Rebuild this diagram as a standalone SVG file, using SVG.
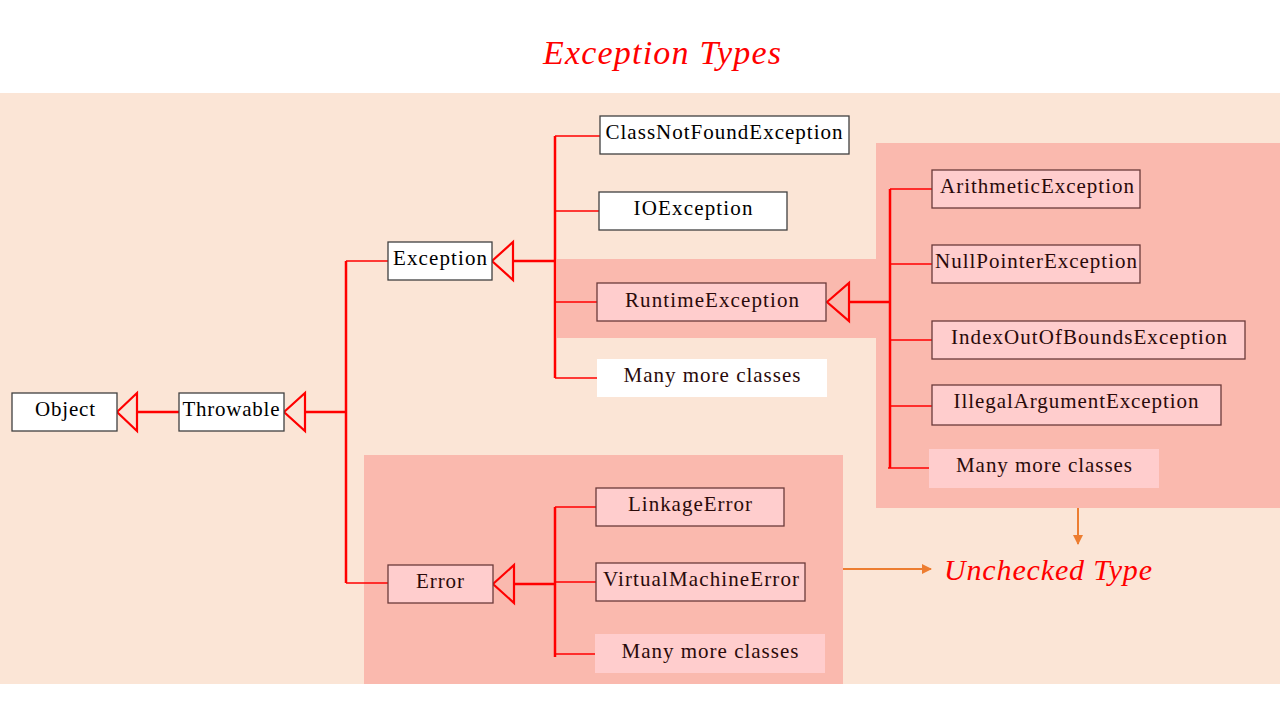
<svg xmlns="http://www.w3.org/2000/svg" width="1280" height="720" viewBox="0 0 1280 720">
<defs>
<style>
.t{font-family:"Liberation Serif","Times New Roman",serif;font-size:21px;fill:#000;text-anchor:middle}
.tp{font-family:"Liberation Serif","Times New Roman",serif;font-size:21px;fill:#2a0a0a;text-anchor:middle}
.bw{fill:#fff;stroke:#404040;stroke-width:1.3}
.bp{fill:#FFCDCD;stroke:#6b3a3a;stroke-width:1.3}
.bpl{fill:#FFCDCD;stroke:none}
.bwl{fill:#fff;stroke:none}
.vl{stroke:#FF0000;stroke-width:2.5;fill:none}
.br{stroke:#FF0000;stroke-width:1.5;fill:none}
.tri{stroke:#FF0000;stroke-width:2.2;fill:none;stroke-linejoin:miter}
.or{stroke:#ED7D31;stroke-width:2;fill:none}
.it{font-family:"Liberation Serif","Times New Roman",serif;font-style:italic;fill:#FF0000}
</style>
<marker id="oa" viewBox="0 0 10 10" refX="9" refY="5" markerWidth="5" markerHeight="5" orient="auto" markerUnits="strokeWidth">
<path d="M0,0 L10,5 L0,10 z" fill="#ED7D31"/>
</marker>
</defs>
<rect x="0" y="0" width="1280" height="720" fill="#fff"/>
<rect x="0" y="93" width="1280" height="591" fill="#FBE5D6"/>
<text class="it" x="662" y="64" font-size="34" text-anchor="middle" textLength="238" lengthAdjust="spacing">Exception Types</text>

<g id="regions">
<rect x="557" y="259" width="320" height="79" fill="#FAB9AE"/>
<rect x="876" y="143" width="404" height="365" fill="#FAB9AE"/>
<rect x="364" y="455" width="479" height="229" fill="#FAB9AE"/>
</g>

<g id="connectors">
<polygon class="tri" points="117,412 137,393 137,431"/>
<line class="vl" x1="137" y1="412" x2="179" y2="412"/>
<polygon class="tri" points="284,412 305,393 305,431"/>
<line class="vl" x1="305" y1="412" x2="346" y2="412"/>
<line class="vl" x1="346" y1="261" x2="346" y2="583"/>
<line class="br" x1="346" y1="261" x2="388" y2="261"/>
<line class="br" x1="346" y1="583" x2="388" y2="583"/>

<polygon class="tri" points="492,261 513,242 513,280"/>
<line class="vl" x1="513" y1="261" x2="555" y2="261"/>
<line class="vl" x1="555" y1="136" x2="555" y2="378"/>
<line class="br" x1="555" y1="136" x2="600" y2="136"/>
<line class="br" x1="555" y1="211" x2="599" y2="211"/>
<line class="br" x1="555" y1="302" x2="597" y2="302"/>
<line class="br" x1="555" y1="378" x2="597" y2="378"/>

<polygon class="tri" points="827,302 849,283 849,321"/>
<line class="vl" x1="849" y1="302" x2="890" y2="302"/>
<line class="vl" x1="890" y1="189" x2="890" y2="468"/>
<line class="br" x1="890" y1="189" x2="932" y2="189"/>
<line class="br" x1="890" y1="264" x2="932" y2="264"/>
<line class="br" x1="890" y1="340" x2="932" y2="340"/>
<line class="br" x1="890" y1="406" x2="932" y2="406"/>
<line class="br" x1="888" y1="468" x2="929" y2="468"/>

<polygon class="tri" points="493,584 514,565 514,603"/>
<line class="vl" x1="514" y1="584" x2="555" y2="584"/>
<line class="vl" x1="555" y1="507" x2="555" y2="657"/>
<line class="br" x1="555" y1="507" x2="596" y2="507"/>
<line class="br" x1="555" y1="582" x2="596" y2="582"/>
<line class="br" x1="555" y1="654" x2="595" y2="654"/>

<line class="or" x1="843" y1="569" x2="931" y2="569" marker-end="url(#oa)"/>
<line class="or" x1="1078" y1="508" x2="1078" y2="544" marker-end="url(#oa)"/>
</g>

<g id="object"><rect class="bw" x="12" y="393" width="105" height="38"/><text class="t" x="65" y="416" textLength="60" lengthAdjust="spacing">Object</text></g>
<g id="throwable"><rect class="bw" x="179" y="393" width="105" height="38"/><text class="t" x="231" y="416" textLength="97" lengthAdjust="spacing">Throwable</text></g>
<g id="exception"><rect class="bw" x="388" y="242" width="104" height="38"/><text class="t" x="440" y="265" textLength="94" lengthAdjust="spacing">Exception</text></g>
<g id="classnotfound"><rect class="bw" x="600" y="116" width="249" height="38"/><text class="t" x="724" y="139" textLength="237" lengthAdjust="spacing">ClassNotFoundException</text></g>
<g id="ioexception"><rect class="bw" x="599" y="192" width="188" height="38"/><text class="t" x="693" y="215" textLength="119" lengthAdjust="spacing">IOException</text></g>
<g id="runtime"><rect class="bp" x="597" y="283" width="229" height="38"/><text class="tp" x="712" y="307" textLength="174" lengthAdjust="spacing">RuntimeException</text></g>
<g id="many1"><rect class="bwl" x="597" y="359" width="230" height="38"/><text class="tp" x="712" y="382" textLength="177" lengthAdjust="spacing">Many more classes</text></g>

<g id="arithmetic"><rect class="bp" x="932" y="170" width="208" height="38"/><text class="tp" x="1037" y="193" textLength="194" lengthAdjust="spacing">ArithmeticException</text></g>
<g id="nullpointer"><rect class="bp" x="932" y="245" width="208" height="38"/><text class="tp" x="1036" y="268" textLength="202" lengthAdjust="spacing">NullPointerException</text></g>
<g id="indexoutofbounds"><rect class="bp" x="932" y="321" width="313" height="38"/><text class="tp" x="1089" y="344" textLength="276" lengthAdjust="spacing">IndexOutOfBoundsException</text></g>
<g id="illegalargument"><rect class="bp" x="932" y="385" width="289" height="40"/><text class="tp" x="1076" y="408" textLength="245" lengthAdjust="spacing">IllegalArgumentException</text></g>
<g id="many2"><rect class="bpl" x="929" y="449" width="230" height="39"/><text class="tp" x="1044" y="472" textLength="176" lengthAdjust="spacing">Many more classes</text></g>

<g id="error"><rect class="bp" x="388" y="565" width="105" height="38"/><text class="tp" x="440" y="588" textLength="48" lengthAdjust="spacing">Error</text></g>
<g id="linkage"><rect class="bp" x="596" y="488" width="188" height="38"/><text class="tp" x="690" y="511" textLength="124" lengthAdjust="spacing">LinkageError</text></g>
<g id="virtualmachine"><rect class="bp" x="596" y="563" width="209" height="38"/><text class="tp" x="701" y="586" textLength="196" lengthAdjust="spacing">VirtualMachineError</text></g>
<g id="many3"><rect class="bpl" x="595" y="634" width="230" height="39"/><text class="tp" x="710" y="658" textLength="177" lengthAdjust="spacing">Many more classes</text></g>

<g id="unchecked"><text class="it" x="1048" y="580" font-size="30" text-anchor="middle" textLength="208" lengthAdjust="spacing">Unchecked Type</text></g>
</svg>
